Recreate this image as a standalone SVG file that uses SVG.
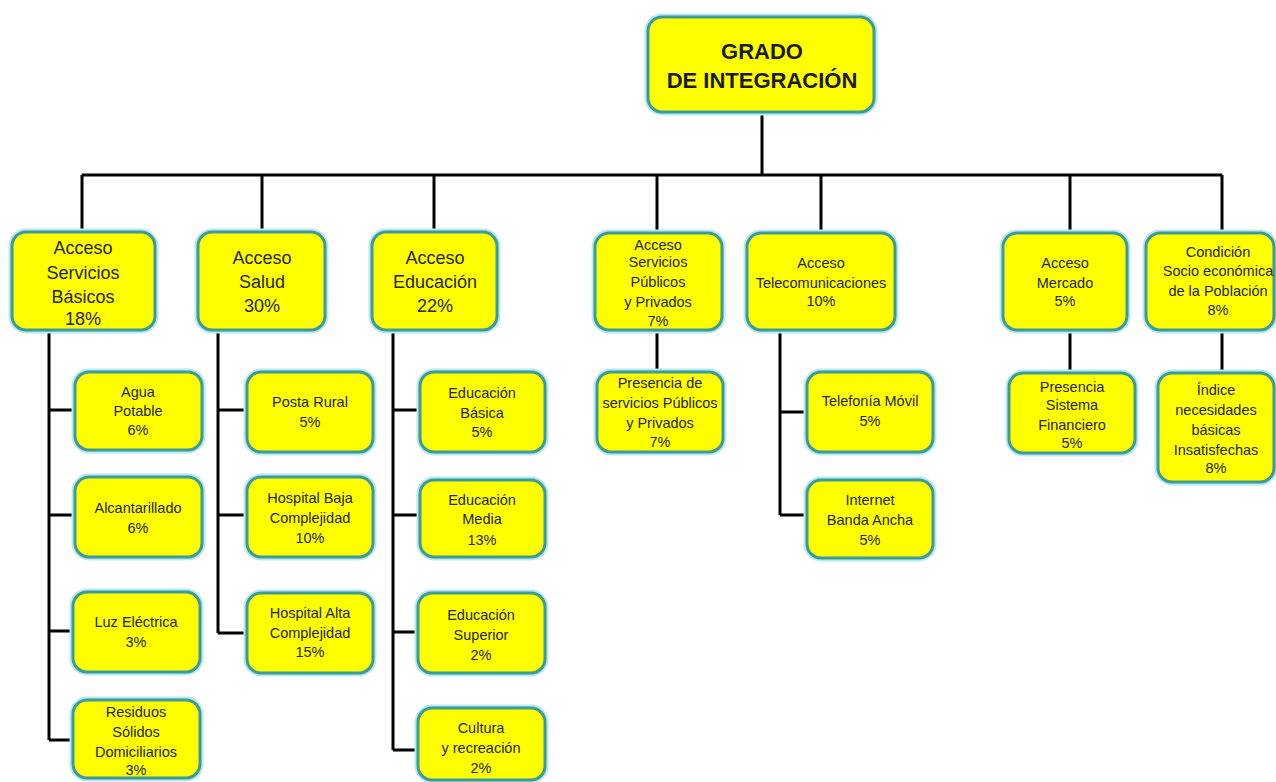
<svg xmlns="http://www.w3.org/2000/svg" width="1276" height="782" viewBox="0 0 1276 782">
<style>
.halo{fill:none;stroke:#b8e7f6;stroke-width:7}
.box{fill:#ffff00;stroke:#3c9c94;stroke-width:3}
.t{font-family:"Liberation Sans",Arial,sans-serif;fill:#262626;text-anchor:middle}
.s{font-size:14.5px}
.m{font-size:18px}
.root{font-size:22px;font-weight:bold;fill:#1a1a1a}
.ln{stroke:#000;stroke-width:3;fill:none}
</style>
<rect width="1276" height="782" fill="#ffffff"/>
<g id="connectors">
<path class="ln" d="M762 112V175M82 175H1222M82 175V232M262 175V232M434 175V232M657 175V232M821 175V232M1070 175V232M1222 175V232"/>
<path class="ln" d="M49 330V740M49 410H75M49 515H75M49 631H73M49 740H73"/>
<path class="ln" d="M218 330V633M218 410H247M218 515H247M218 633H247"/>
<path class="ln" d="M393 330V750M393 410H420M393 515H420M393 632H418M393 750H418"/>
<path class="ln" d="M657 330V372"/>
<path class="ln" d="M780 330V515M780 412H807M780 515H807"/>
<path class="ln" d="M1070 330V373"/>
<path class="ln" d="M1222 330V373"/>
</g>
<g id="root">
<rect class="halo" x="648" y="17" width="226" height="95" rx="14"/>
<rect class="box" x="648" y="17" width="226" height="95" rx="14"/>
<text class="t root" x="762" y="59">GRADO</text>
<text class="t root" x="762" y="88">DE INTEGRACIÓN</text>
</g>
<g id="n-basicos">
<rect class="halo" x="12" y="232" width="143" height="98" rx="14"/>
<rect class="box" x="12" y="232" width="143" height="98" rx="14"/>
<text class="t m" x="83" y="254">Acceso</text>
<text class="t m" x="83" y="279">Servicios</text>
<text class="t m" x="83" y="303">Básicos</text>
<text class="t m" x="83" y="325">18%</text>
</g>
<g id="n-salud">
<rect class="halo" x="198" y="232" width="127" height="98" rx="14"/>
<rect class="box" x="198" y="232" width="127" height="98" rx="14"/>
<text class="t m" x="262" y="264">Acceso</text>
<text class="t m" x="262" y="288">Salud</text>
<text class="t m" x="262" y="312">30%</text>
</g>
<g id="n-educacion">
<rect class="halo" x="372" y="232" width="125" height="98" rx="14"/>
<rect class="box" x="372" y="232" width="125" height="98" rx="14"/>
<text class="t m" x="435" y="264">Acceso</text>
<text class="t m" x="435" y="288">Educación</text>
<text class="t m" x="435" y="312">22%</text>
</g>
<g id="n-servicios">
<rect class="halo" x="595" y="233" width="127" height="97" rx="14"/>
<rect class="box" x="595" y="233" width="127" height="97" rx="14"/>
<text class="t s" x="658" y="250">Acceso</text>
<text class="t s" x="658" y="267">Servicios</text>
<text class="t s" x="658" y="287">Públicos</text>
<text class="t s" x="658" y="307">y Privados</text>
<text class="t s" x="658" y="326">7%</text>
</g>
<g id="n-telecom">
<rect class="halo" x="747" y="233" width="148" height="97" rx="14"/>
<rect class="box" x="747" y="233" width="148" height="97" rx="14"/>
<text class="t s" x="821" y="268">Acceso</text>
<text class="t s" x="821" y="288">Telecomunicaciones</text>
<text class="t s" x="821" y="306">10%</text>
</g>
<g id="n-mercado">
<rect class="halo" x="1003" y="233" width="124" height="97" rx="14"/>
<rect class="box" x="1003" y="233" width="124" height="97" rx="14"/>
<text class="t s" x="1065" y="268">Acceso</text>
<text class="t s" x="1065" y="288">Mercado</text>
<text class="t s" x="1065" y="306">5%</text>
</g>
<g id="n-condicion">
<rect class="halo" x="1146" y="233" width="128" height="97" rx="14"/>
<rect class="box" x="1146" y="233" width="128" height="97" rx="14"/>
<text class="t s" x="1218" y="257">Condición</text>
<text class="t s" x="1218" y="276">Socio económica</text>
<text class="t s" x="1218" y="296">de la Población</text>
<text class="t s" x="1218" y="315">8%</text>
</g>
<g id="c-agua">
<rect class="halo" x="75" y="372" width="127" height="78" rx="14"/>
<rect class="box" x="75" y="372" width="127" height="78" rx="14"/>
<text class="t s" x="138" y="397">Agua</text>
<text class="t s" x="138" y="416">Potable</text>
<text class="t s" x="138" y="435">6%</text>
</g>
<g id="c-alcantarillado">
<rect class="halo" x="75" y="477" width="127" height="80" rx="14"/>
<rect class="box" x="75" y="477" width="127" height="80" rx="14"/>
<text class="t s" x="138" y="513">Alcantarillado</text>
<text class="t s" x="138" y="533">6%</text>
</g>
<g id="c-luz">
<rect class="halo" x="73" y="592" width="127" height="80" rx="14"/>
<rect class="box" x="73" y="592" width="127" height="80" rx="14"/>
<text class="t s" x="136" y="627">Luz Eléctrica</text>
<text class="t s" x="136" y="647">3%</text>
</g>
<g id="c-residuos">
<rect class="halo" x="73" y="700" width="127" height="78" rx="14"/>
<rect class="box" x="73" y="700" width="127" height="78" rx="14"/>
<text class="t s" x="136" y="717">Residuos</text>
<text class="t s" x="136" y="737">Sólidos</text>
<text class="t s" x="136" y="757">Domiciliarios</text>
<text class="t s" x="136" y="775">3%</text>
</g>
<g id="c-posta">
<rect class="halo" x="247" y="372" width="126" height="80" rx="14"/>
<rect class="box" x="247" y="372" width="126" height="80" rx="14"/>
<text class="t s" x="310" y="407">Posta Rural</text>
<text class="t s" x="310" y="427">5%</text>
</g>
<g id="c-hbaja">
<rect class="halo" x="247" y="477" width="126" height="80" rx="14"/>
<rect class="box" x="247" y="477" width="126" height="80" rx="14"/>
<text class="t s" x="310" y="503">Hospital Baja</text>
<text class="t s" x="310" y="523">Complejidad</text>
<text class="t s" x="310" y="543">10%</text>
</g>
<g id="c-halta">
<rect class="halo" x="247" y="593" width="126" height="80" rx="14"/>
<rect class="box" x="247" y="593" width="126" height="80" rx="14"/>
<text class="t s" x="310" y="618">Hospital Alta</text>
<text class="t s" x="310" y="638">Complejidad</text>
<text class="t s" x="310" y="657">15%</text>
</g>
<g id="c-basica">
<rect class="halo" x="420" y="372" width="125" height="80" rx="14"/>
<rect class="box" x="420" y="372" width="125" height="80" rx="14"/>
<text class="t s" x="482" y="398">Educación</text>
<text class="t s" x="482" y="418">Básica</text>
<text class="t s" x="482" y="437">5%</text>
</g>
<g id="c-media">
<rect class="halo" x="420" y="480" width="125" height="77" rx="14"/>
<rect class="box" x="420" y="480" width="125" height="77" rx="14"/>
<text class="t s" x="482" y="505">Educación</text>
<text class="t s" x="482" y="524">Media</text>
<text class="t s" x="482" y="545">13%</text>
</g>
<g id="c-superior">
<rect class="halo" x="418" y="593" width="127" height="80" rx="14"/>
<rect class="box" x="418" y="593" width="127" height="80" rx="14"/>
<text class="t s" x="481" y="620">Educación</text>
<text class="t s" x="481" y="640">Superior</text>
<text class="t s" x="481" y="660">2%</text>
</g>
<g id="c-cultura">
<rect class="halo" x="418" y="708" width="127" height="72" rx="14"/>
<rect class="box" x="418" y="708" width="127" height="72" rx="14"/>
<text class="t s" x="481" y="733">Cultura</text>
<text class="t s" x="481" y="753">y recreación</text>
<text class="t s" x="481" y="773">2%</text>
</g>
<g id="c-presencia">
<rect class="halo" x="597" y="372" width="126" height="80" rx="14"/>
<rect class="box" x="597" y="372" width="126" height="80" rx="14"/>
<text class="t s" x="660" y="388">Presencia de</text>
<text class="t s" x="660" y="408">servicios Públicos</text>
<text class="t s" x="660" y="428">y Privados</text>
<text class="t s" x="660" y="447">7%</text>
</g>
<g id="c-movil">
<rect class="halo" x="807" y="372" width="126" height="80" rx="14"/>
<rect class="box" x="807" y="372" width="126" height="80" rx="14"/>
<text class="t s" x="870" y="406">Telefonía  Móvil</text>
<text class="t s" x="870" y="426">5%</text>
</g>
<g id="c-internet">
<rect class="halo" x="807" y="480" width="126" height="78" rx="14"/>
<rect class="box" x="807" y="480" width="126" height="78" rx="14"/>
<text class="t s" x="870" y="505">Internet</text>
<text class="t s" x="870" y="525">Banda  Ancha</text>
<text class="t s" x="870" y="545">5%</text>
</g>
<g id="c-financiero">
<rect class="halo" x="1009" y="373" width="126" height="80" rx="14"/>
<rect class="box" x="1009" y="373" width="126" height="80" rx="14"/>
<text class="t s" x="1072" y="392">Presencia</text>
<text class="t s" x="1072" y="410">Sistema</text>
<text class="t s" x="1072" y="430">Financiero</text>
<text class="t s" x="1072" y="448">5%</text>
</g>
<g id="c-indice">
<rect class="halo" x="1158" y="373" width="116" height="109" rx="14"/>
<rect class="box" x="1158" y="373" width="116" height="109" rx="14"/>
<text class="t s" x="1216" y="395">Índice</text>
<text class="t s" x="1216" y="415">necesidades</text>
<text class="t s" x="1216" y="435">básicas</text>
<text class="t s" x="1216" y="455">Insatisfechas</text>
<text class="t s" x="1216" y="473">8%</text>
</g>
</svg>
